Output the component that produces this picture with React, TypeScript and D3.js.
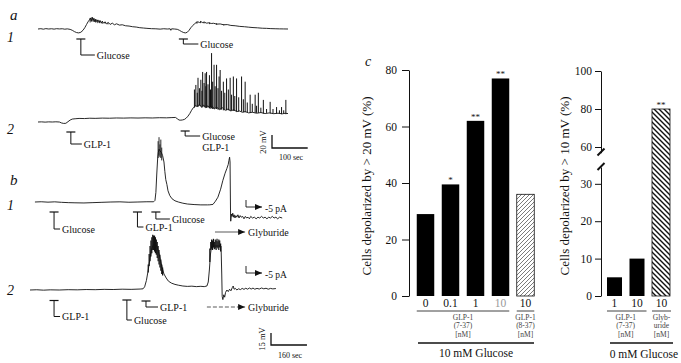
import React, { useEffect, useRef } from 'react';
import * as d3 from 'd3';

// ---- panel a : membrane potential traces, [time (s), mV] ----
const a1Trace = [
  [0, 0], [8, 0.5], [15, -0.3], [22, 0.6], [30, 0], [38, 0.4], [45, -0.2], [52, 0.5], [60, 0.1], [68, 0.4],
  [75, -0.3], [82, 0.2], [90, -0.6], [96, -2], [102, -4], [108, -5.5], [114, -6], [120, -5], [126, -2], [131, 2],
  [136, 7], [140, 11], [144, 14], [147, 17], [149, 12], [152, 18], [154, 13], [157, 16], [159, 11], [162, 15],
  [165, 11], [168, 14], [171, 10], [174, 13], [177, 9], [180, 12], [184, 9], [188, 11], [192, 8], [197, 10],
  [202, 7], [208, 9], [214, 6.5], [220, 8], [228, 6], [236, 6.5], [245, 5], [255, 4.5], [265, 3.5], [275, 3],
  [285, 2], [295, 1.5], [305, 1], [318, 0.5], [330, 0.3], [342, -0.2], [352, 0.4], [362, 0], [370, 0.3], [372, -2],
  [374, 0.3], [382, 0], [390, -0.5], [396, -2], [402, -4], [408, -5.5], [413, -6], [418, -5], [423, -2], [428, 2],
  [433, 5], [438, 8], [443, 10], [448, 11], [452, 10], [456, 11.5], [460, 10], [466, 10.5], [472, 9], [478, 9.5],
  [485, 8.5], [492, 8.8], [500, 7.5], [510, 7.8], [520, 6.5], [530, 6.8], [540, 5.5], [552, 5], [565, 4], [578, 3.5],
  [590, 2.8], [602, 2.2], [615, 1.8], [628, 1.2], [640, 1], [652, 0.6], [664, 0.4], [676, 0.2], [688, 0.1], [700, 0],
];
// [time, low, high] noise excursions
const a1Noise = [
  [146, 10, 17], [151, 11, 18], [156, 11, 17], [161, 10, 15], [166, 9, 14], [172, 9, 13], [180, 8, 12], [188, 8, 11],
  [196, 7, 10], [445, 8, 11.5], [455, 9, 12], [465, 8.5, 11], [480, 7.5, 10], [500, 6.5, 9], [520, 5.5, 7.5],
];

const a2Trace = [
  [0, 0], [10, 0.2], [20, -0.2], [30, 0.2], [40, 0], [50, 0.3], [60, 0], [66, -1.5], [72, -2.2], [78, -2],
  [84, 0.5], [90, 3], [96, 4.5], [104, 5], [115, 5.5], [130, 5.3], [145, 5.8], [160, 5.6], [180, 6], [200, 5.8],
  [220, 6.2], [240, 6], [260, 6.3], [280, 6.1], [300, 6.4], [320, 6.2], [340, 6.6], [360, 6.4], [375, 6.8], [385, 7],
  [390, 5], [395, 3], [400, 2.8], [405, 3.2], [410, 4], [415, 6], [420, 9], [425, 13], [430, 18], [435, 22],
  [440, 25], [446, 24], [452, 27], [458, 23], [464, 26], [470, 22], [476, 25], [482, 21], [488, 24], [494, 20],
  [500, 23], [508, 19], [516, 22], [524, 18], [532, 20], [540, 17], [548, 19], [556, 16], [564, 17], [572, 15],
  [580, 16], [590, 14], [600, 15], [612, 13.5], [624, 14.5], [636, 13], [648, 14], [660, 12.8], [672, 13.5],
  [684, 12.6], [692, 13.4], [700, 13],
];
// [time, foot, peak] action potentials
const a2Spikes = [
  [438, 22, 50], [442, 24, 57], [446, 24, 45], [448, 23, 68], [452, 25, 52], [456, 24, 65], [459, 22, 48],
  [461, 24, 77], [465, 23, 60], [468, 22, 75], [470, 23, 55], [472, 22, 77], [476, 22, 58], [480, 21, 72],
  [483, 22, 50], [486, 21, 106], [489, 20, 62], [493, 20, 88], [496, 21, 55], [500, 20, 88], [504, 19, 52],
  [507, 20, 70], [510, 19, 80], [514, 19, 48], [519, 18, 62], [523, 19, 45], [528, 18, 67], [533, 18, 50],
  [538, 17, 68], [542, 18, 42], [547, 17, 70], [551, 17, 40], [556, 16, 67], [562, 16, 38], [570, 16, 70],
  [575, 15, 35], [580, 15, 62], [586, 15, 30], [594, 14, 42], [600, 15, 28], [608, 14, 42], [612, 14, 25],
  [617, 14, 45], [624, 14, 22], [631, 13, 34], [640, 14, 20], [650, 13, 31], [658, 13, 20], [668, 13, 23],
  [676, 13, 18], [682, 12, 23], [688, 13, 18], [694, 12, 34],
];

// ---- panel b : perforated patch traces ----
const b1Trace = [
  [22, 0], [50, 0.3], [80, -0.2], [110, 0.2], [140, -0.4], [170, -0.8], [200, -1], [240, -1.2], [280, -0.8],
  [320, -0.4], [360, 0], [400, 0.2], [440, -0.3], [480, 0], [520, 0.3], [550, 0.3], [556, 2], [560, 12],
  [564, 35], [568, 55], [571, 62], [574, 66], [578, 64], [584, 62], [590, 58], [596, 50], [600, 38], [604, 28],
  [609, 22], [614, 14], [622, 8], [632, 4], [645, 1.5], [660, 0], [680, -1.5], [700, -2.5], [730, -3.2],
  [760, -3.6], [790, -3.6], [800, -3.5], [814, -3], [825, 1], [836, 6], [848, 16], [858, 27], [868, 36],
  [876, 42], [882, 47], [885, 52], [888, 56], [890, 50], [892, -10], [893, -24], [896, -15], [899, -18],
  [902, -14], [905, -19], [908, -16], [912, -20], [916, -17], [920, -19], [925, -16], [930, -20], [935, -17],
  [940, -19], [946, -18], [952, -21], [958, -18], [964, -20], [970, -19], [976, -21], [982, -18], [990, -20],
  [998, -19], [1006, -21], [1014, -19], [1022, -20], [1030, -18], [1038, -20], [1046, -19], [1054, -21],
  [1062, -19], [1070, -20], [1078, -18], [1086, -20], [1094, -19], [1102, -21], [1110, -19], [1122, -20],
];
const b1Spikes = [[570, 55, 76], [574, 58, 81], [578, 56, 72], [582, 55, 78], [586, 52, 68]];

const b2Trace = [
  [0, 0], [30, 0.3], [60, -0.2], [90, 0.2], [130, 0], [170, 0.4], [210, 0.2], [250, 0.6], [290, 0.4], [330, 0.8],
  [370, 0.6], [410, 1], [450, 0.8], [490, 1.2], [503, 1.5], [510, 4], [518, 12], [526, 25], [534, 40], [540, 50],
  [548, 56], [556, 58], [564, 55], [572, 48], [580, 38], [588, 28], [596, 20], [606, 15], [616, 11], [630, 8.5],
  [645, 7], [660, 6], [680, 5], [700, 4.5], [720, 4.8], [740, 4.2], [760, 4.6], [775, 4.2], [787, 5], [793, 10],
  [798, 25], [803, 45], [808, 55], [850, 55], [853, 20], [855, -8], [858, -12], [862, -6], [866, -9], [870, -3],
  [876, 0], [882, -2], [888, 1], [894, -1], [900, 3], [904, 5], [908, 1], [914, 2], [920, 0], [928, 1.5],
  [936, 0.5], [944, 2], [952, 0.8], [960, 2.2], [968, 1], [976, 2.5], [984, 1.2], [992, 2.4], [1000, 1],
  [1010, 2], [1020, 1.2], [1030, 2.5], [1040, 1.5], [1050, 2.2], [1060, 1], [1070, 2], [1080, 1.4], [1094, 1.8],
];
const b2Bursts = [
  [526, 22, 32], [530, 30, 45], [534, 36, 55], [538, 42, 62], [542, 46, 66], [546, 50, 69], [550, 50, 68],
  [554, 48, 68], [558, 46, 66], [562, 44, 63], [566, 40, 60], [570, 36, 55], [574, 32, 50], [578, 28, 44],
  [582, 24, 38], [586, 20, 32], [590, 18, 28],
  [800, 35, 52], [804, 50, 60], [808, 52, 63], [812, 50, 62], [816, 53, 64], [820, 51, 60], [824, 52, 63],
  [828, 50, 62], [832, 53, 64], [836, 52, 61], [840, 50, 63], [844, 53, 62], [848, 48, 58],
];

// application markers: time (s) and label lines
const a1Markers = [{ t: 120, label: ['Glucose'] }, { t: 407, label: ['Glucose'] }];
const a2Markers = [{ t: 92, label: ['GLP-1'] }, { t: 412, label: ['Glucose', 'GLP-1'] }];
const b1Markers = [{ t: 107, label: ['Glucose'] }, { t: 478, label: ['GLP-1'] }, { t: 560, label: ['Glucose'] }];
const b2Markers = [{ t: 107, label: ['GLP-1'] }, { t: 431, label: ['Glucose'] }, { t: 516, label: ['GLP-1'] }];
const glyburideB1 = [823, 957];
const glyburideB2 = [787, 957];

// ---- panel c : bar charts ----
const cLeftLabels = ['0', '0.1', '1', '10', '10'];
const cLeftValues = [29, 39.5, 62, 77, 36];
const cLeftStars = ['', '*', '**', '**', ''];
const cLeftTicks = [0, 20, 40, 60, 80];

const cRightLabels = ['1', '10', '10'];
const cRightValues = [5, 10, 80];
const cRightStars = ['', '', '**'];
const cRightLowTicks = [0, 10, 20, 30];
const cRightHighTicks = [60, 80, 100];

const serif = '"Liberation Serif", "DejaVu Serif", serif';

const draw = (svg) => {
  const defs = svg.append('defs');
  defs.append('marker').attr('id', 'arr').attr('markerUnits', 'userSpaceOnUse')
    .attr('markerWidth', 7).attr('markerHeight', 6).attr('refX', 7).attr('refY', 3).attr('orient', 'auto')
    .append('path').attr('d', 'M0,0L7,3L0,6Z').attr('fill', '#111');
  defs.append('pattern').attr('id', 'hatchL').attr('patternUnits', 'userSpaceOnUse')
    .attr('width', 4).attr('height', 4)
    .append('path').attr('d', 'M0,4L4,0M-1,1L1,-1M3,5L5,3').attr('stroke', '#222').attr('stroke-width', 0.6);
  defs.append('pattern').attr('id', 'hatchR').attr('patternUnits', 'userSpaceOnUse')
    .attr('width', 5).attr('height', 5)
    .append('path').attr('d', 'M0,0L5,5M-1,4L1,6M4,-1L6,1').attr('stroke', '#111').attr('stroke-width', 1.4);

  const text = (x, y, s, size, opts: any = {}) => {
    const t = svg.append('text').attr('x', x).attr('y', y).text(s)
      .attr('font-family', serif).attr('font-size', size).attr('fill', opts.fill || '#111')
      .attr('text-anchor', opts.anchor || 'start');
    if (opts.italic) t.attr('font-style', 'italic');
    if (opts.rotate) t.attr('transform', `rotate(-90,${x},${y})`);
    return t;
  };

  const trace = (data, x, y) => {
    const line = d3.line().x(d => x(d[0])).y(d => y(d[1]));
    svg.append('path').attr('d', line(data)).attr('fill', 'none')
      .attr('stroke', '#111').attr('stroke-width', 0.9).attr('stroke-linejoin', 'round');
  };
  const ticks = (data, x, y, w) => {
    svg.append('g').selectAll('line').data(data).enter().append('line')
      .attr('x1', d => x(d[0])).attr('x2', d => x(d[0]))
      .attr('y1', d => y(d[1])).attr('y2', d => y(d[2]))
      .attr('stroke', '#111').attr('stroke-width', w);
  };
  // marker layout: [bar y, drop, hook] per marker
  const markers = (list, x, layout) => {
    list.forEach((m, i) => {
      const [by, drop, hook] = layout[i];
      const mx = x(m.t);
      svg.append('line').attr('x1', mx - 4.5).attr('x2', mx + 4.5).attr('y1', by).attr('y2', by)
        .attr('stroke', '#111').attr('stroke-width', 1.2);
      svg.append('path').attr('d', `M${mx},${by}V${by + drop}H${mx + hook}`)
        .attr('fill', 'none').attr('stroke', '#111').attr('stroke-width', 1);
      m.label.forEach((s, j) => text(mx + hook + 2, by + drop + 3.5 + j * 11.5, s, 10));
    });
  };

  // panel a
  const xA = d3.scaleLinear().domain([0, 700]).range([38, 288]);
  const yA1 = d3.scaleLinear().domain([0, 20]).range([29, 16]);
  const yA2 = d3.scaleLinear().domain([0, 20]).range([122, 109]);
  trace(a1Trace, xA, yA1);
  ticks(a1Noise, xA, yA1, 0.8);
  trace(a2Trace, xA, yA2);
  ticks(a2Spikes, xA, yA2, 1);
  markers(a1Markers, xA, [[39, 16, 14], [39, 5, 15]]);
  markers(a2Markers, xA, [[132, 12, 11], [131, 5, 15]]);
  text(10, 20, 'a', 15, { italic: true });
  text(7, 42, '1', 14, { italic: true });
  text(7, 134, '2', 14, { italic: true });
  // scale bar a
  const sa = { x: 272, y: 148 };
  svg.append('path')
    .attr('d', `M${sa.x},${sa.y - (yA2(0) - yA2(20))}V${sa.y}H${sa.x + xA(100) - xA(0)}`)
    .attr('fill', 'none').attr('stroke', '#111').attr('stroke-width', 1.3);
  text(266, 142, '20 mV', 8.5, { anchor: 'middle', rotate: true });
  text(291, 160, '100 sec', 8, { anchor: 'middle' });

  // panel b
  const xB = d3.scaleLinear().domain([0, 1130]).range([30, 284]);
  const yB1 = d3.scaleLinear().domain([0, 15]).range([202, 190]);
  const yB2 = d3.scaleLinear().domain([0, 15]).range([290, 278]);
  trace(b1Trace, xB, yB1);
  ticks(b1Spikes, xB, yB1, 0.9);
  trace(b2Trace, xB, yB2);
  ticks(b2Bursts, xB, yB2, 1.2);
  markers(b1Markers, xB, [[212, 17, 6], [212, 15, 6], [212, 7, 14]]);
  markers(b2Markers, xB, [[300.5, 16, 6], [300, 20, 5], [301, 6, 12]]);
  text(10, 185, 'b', 15, { italic: true });
  text(7, 210, '1', 14, { italic: true });
  text(7, 295, '2', 14, { italic: true });
  [[glyburideB1, 232, 'none'], [glyburideB2, 307, '4,2']].forEach(([g, y, dash]: any) => {
    svg.append('line').attr('x1', xB(g[0])).attr('x2', xB(g[1])).attr('y1', y).attr('y2', y)
      .attr('stroke', '#111').attr('stroke-width', 0.7).attr('stroke-dasharray', dash)
      .attr('marker-end', 'url(#arr)');
    text(xB(g[1]) + 3, y + 3.5, 'Glyburide', 10);
  });
  [200, 266].forEach(y => {
    svg.append('path').attr('d', `M246,${y}V${y + 7}H262`).attr('fill', 'none')
      .attr('stroke', '#111').attr('stroke-width', 0.9).attr('marker-end', 'url(#arr)');
    text(265, y + 12, '-5 pA', 9.5);
  });
  const sb = { x: 271, y: 345 };
  svg.append('path')
    .attr('d', `M${sb.x},${sb.y - (yB2(0) - yB2(15))}V${sb.y}H${sb.x + xB(160) - xB(0)}`)
    .attr('fill', 'none').attr('stroke', '#111').attr('stroke-width', 1.3);
  text(265, 339, '15 mV', 8.5, { anchor: 'middle', rotate: true });
  text(290, 358, '160 sec', 8, { anchor: 'middle' });

  // panel c, left chart
  text(365, 66, 'c', 14, { italic: true });
  const xL = d3.scaleBand().domain(d3.range(cLeftValues.length)).range([413, 538])
    .paddingInner(0.3).paddingOuter(0.15);
  const yL = d3.scaleLinear().domain([0, 80]).range([296, 70]);
  const axL = svg.append('g').attr('transform', 'translate(409,0)')
    .call(d3.axisLeft(yL).tickValues(cLeftTicks).tickSize(7).tickSizeOuter(0).tickPadding(5));
  axL.selectAll('text').attr('font-family', serif).attr('font-size', 11.5).attr('fill', '#111');
  axL.selectAll('line,path').attr('stroke', '#111');
  svg.append('g').selectAll('rect').data(cLeftValues).enter().append('rect')
    .attr('x', (d, i) => xL(i)).attr('y', d => yL(d))
    .attr('width', xL.bandwidth()).attr('height', d => yL(0) - yL(d))
    .attr('fill', (d, i) => (i === 4 ? 'url(#hatchL)' : '#000'))
    .attr('stroke', (d, i) => (i === 4 ? '#111' : 'none')).attr('stroke-width', 0.8);
  cLeftStars.forEach((s, i) => s && text(xL(i) + xL.bandwidth() / 2, yL(cLeftValues[i]) - 1, s, 9, { anchor: 'middle' }));
  cLeftLabels.forEach((s, i) => text(xL(i) + xL.bandwidth() / 2, 307, s, 11.5,
    { anchor: 'middle', fill: i === 3 ? '#999' : '#111' }));
  const hline = (x1, x2, y, w) => svg.append('line').attr('x1', x1).attr('x2', x2)
    .attr('y1', y).attr('y2', y).attr('stroke', '#111').attr('stroke-width', w);
  hline(xL(0), xL(3) + xL.bandwidth(), 311, 0.8);
  hline(xL(4), xL(4) + xL.bandwidth(), 311, 0.8);
  const sub = (cx, lines) => lines.forEach((s, j) => text(cx, 319.5 + j * 8.7, s, 7.5, { anchor: 'middle', fill: '#444' }));
  sub((xL(0) + xL(3) + xL.bandwidth()) / 2, ['GLP-1', '(7-37)', '[nM]']);
  sub(xL(4) + xL.bandwidth() / 2, ['GLP-1', '(8-37)', '[nM]']);
  hline(418, 534, 343, 1.6);
  text(476, 357, '10 mM Glucose', 11.5, { anchor: 'middle' });
  text(371, 186, 'Cells depolarized by > 20 mV (%)', 13, { anchor: 'middle', rotate: true });

  // panel c, right chart (broken axis)
  const xR = d3.scaleBand().domain(d3.range(cRightValues.length)).range([602, 672])
    .paddingInner(0.333).paddingOuter(0.222);
  const yRLow = d3.scaleLinear().domain([0, 34.5]).range([296, 167]);
  const yRHigh = d3.scaleLinear().domain([57, 100]).range([152.7, 71]);
  const yR = v => (v > 34.5 ? yRHigh(v) : yRLow(v));
  [[yRLow, cRightLowTicks], [yRHigh, cRightHighTicks]].forEach(([sc, tv]: any) => {
    const ax = svg.append('g').attr('transform', 'translate(601,0)')
      .call(d3.axisLeft(sc).tickValues(tv).tickSize(6).tickSizeOuter(0).tickPadding(3));
    ax.selectAll('text').attr('font-family', serif).attr('font-size', 11.5).attr('fill', '#111');
    ax.selectAll('line,path').attr('stroke', '#111');
  });
  [152, 166.5].forEach(y => svg.append('line').attr('x1', 597.5).attr('x2', 604.5)
    .attr('y1', y + 3.5).attr('y2', y - 3.5).attr('stroke', '#111').attr('stroke-width', 2));
  svg.append('g').selectAll('rect').data(cRightValues).enter().append('rect')
    .attr('x', (d, i) => xR(i)).attr('y', d => yR(d))
    .attr('width', (d, i) => xR.bandwidth() + (i === 2 ? 3 : 0)).attr('height', d => yR(0) - yR(d))
    .attr('fill', (d, i) => (i === 2 ? 'url(#hatchR)' : '#000'))
    .attr('stroke', (d, i) => (i === 2 ? '#111' : 'none')).attr('stroke-width', 0.8);
  cRightStars.forEach((s, i) => s && text(xR(i) + xR.bandwidth() / 2 + 1.5, yR(cRightValues[i]) - 1, s, 9, { anchor: 'middle' }));
  cRightLabels.forEach((s, i) => text(xR(i) + xR.bandwidth() / 2 + (i === 2 ? 2 : 0), 307, s, 11.5, { anchor: 'middle' }));
  hline(xR(0), xR(1) + xR.bandwidth() + 2, 311, 0.8);
  hline(xR(2), xR(2) + xR.bandwidth() + 4, 311, 0.8);
  sub((xR(0) + xR(1) + xR.bandwidth()) / 2, ['GLP-1', '(7-37)', '[nM]']);
  sub(xR(2) + xR.bandwidth() / 2 + 2, ['Glyb-', 'uride', '[nM]']);
  hline(610, 673, 343, 1.6);
  text(678, 358, '0 mM Glucose', 11.5, { anchor: 'end' });
  text(569, 186, 'Cells depolarized by > 10 mV (%)', 13, { anchor: 'middle', rotate: true });
};

const App = () => {
  const ref = useRef<SVGSVGElement>(null);
  useEffect(() => {
    const svg = d3.select(ref.current);
    svg.selectAll('*').remove();
    draw(svg);
  }, []);
  return (
    <svg ref={ref} width={681} height={363}
      style={{ position: 'absolute', left: 0, top: 0, background: '#fff' }} />
  );
};

export default App;
